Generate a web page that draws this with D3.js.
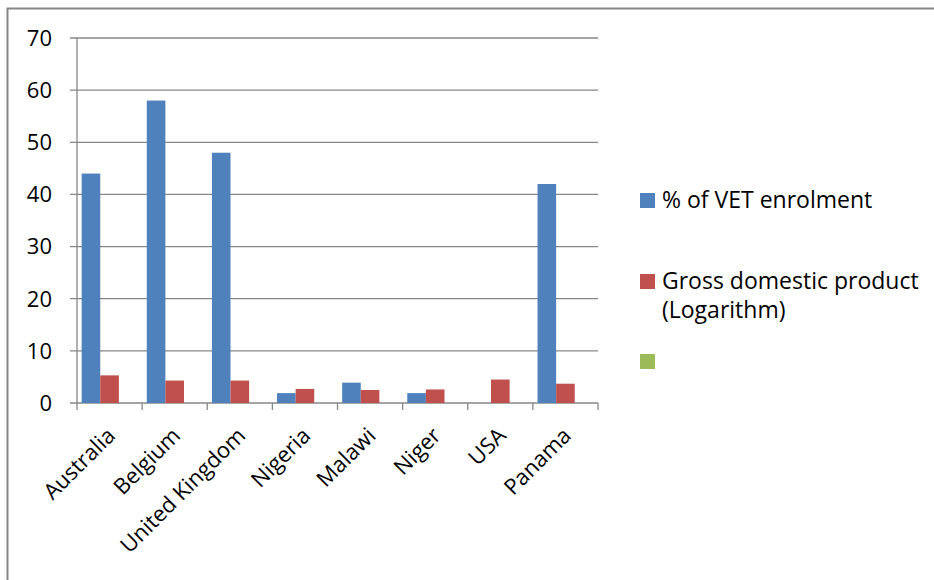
<!DOCTYPE html>
<html>
<head>
<meta charset="utf-8">
<title>VET enrolment and GDP</title>
<script src="https://d3js.org/d3.v7.min.js"></script>
<style>
  body { margin: 0; background: #fff; }
  #plot { width: 934px; height: 580px; }
  text { font-family: "Open Sans", Calibri, sans-serif; fill: #000; }
</style>
</head>
<body>
<div id="plot"></div>
<script>
var countries = ['Australia', 'Belgium', 'United Kingdom', 'Nigeria', 'Malawi', 'Niger', 'USA', 'Panama']
var vetEnrolment = [44, 58, 48, 1.9, 3.9, 1.9, null, 42]
var gdpLog = [5.3, 4.3, 4.3, 2.7, 2.5, 2.6, 4.5, 3.7]
var thirdSeries = [null, null, null, null, null, null, null, null]
var seriesColors = ['#4f81bd', '#c0504d', '#9bbb59']
var yTicks = [0, 10, 20, 30, 40, 50, 60, 70]

var margin = {top: 38, left: 77}
var width = 521, height = 365

var svg = d3.select('#plot').append('svg')
    .attr('width', 934)
    .attr('height', 580)

// outer chart frame
svg.append('path')
    .attr('d', 'M7.5,580 V8.5 H934')
    .attr('fill', 'none')
    .attr('stroke', '#878787')
    .attr('stroke-width', 2)

var g = svg.append('g').attr('transform', 'translate(' + margin.left + ',' + margin.top + ')')

var x = d3.scaleBand().domain(countries).range([0, width]).paddingInner(0).paddingOuter(0)
var y = d3.scaleLinear().domain([0, 70]).range([height, 0])
var inner = d3.scaleBand().domain([0, 1, 2]).range([0, x.bandwidth()]).paddingInner(0).paddingOuter(0.25)

// gridlines
g.selectAll('.grid').data(yTicks).enter().append('line')
    .attr('x1', -7).attr('x2', width)
    .attr('y1', function(d){ return y(d) }).attr('y2', function(d){ return y(d) })
    .attr('stroke', '#878787').attr('stroke-width', 1.3)

// y axis line
g.append('line').attr('x1', 0).attr('x2', 0).attr('y1', 0).attr('y2', height)
    .attr('stroke', '#878787').attr('stroke-width', 1.3)

// y labels
g.selectAll('.ylab').data(yTicks).enter().append('text')
    .attr('x', -25).attr('y', function(d){ return y(d) })
    .attr('dy', '0.36em')
    .attr('text-anchor', 'end')
    .style('font-size', '22px')
    .text(function(d){ return d })

// x ticks
var xTicks = countries.map(function(c){ return x(c) }).concat([width])
g.selectAll('.xtick').data(xTicks).enter().append('line')
    .attr('x1', function(d){ return d }).attr('x2', function(d){ return d })
    .attr('y1', height).attr('y2', height + 7)
    .attr('stroke', '#878787').attr('stroke-width', 1.3)

// bars
var allSeries = [vetEnrolment, gdpLog, thirdSeries]
allSeries.forEach(function(vals, si){
    g.selectAll('.bar' + si).data(countries).enter().append('rect')
        .attr('x', function(c){ return x(c) + inner(si) })
        .attr('width', inner.bandwidth())
        .attr('y', function(c, i){ return vals[i] == null ? height : y(vals[i]) })
        .attr('height', function(c, i){ return vals[i] == null ? 0 : height - y(vals[i]) })
        .attr('fill', seriesColors[si])
})

// x labels
g.selectAll('.xlab').data(countries).enter().append('text')
    .attr('transform', function(c){
        return 'translate(' + (x(c) + x.bandwidth() / 2 + 7) + ',' + (height + 34) + ') rotate(-45)'
    })
    .attr('text-anchor', 'end')
    .style('font-size', '22px')
    .text(function(c){ return c })

// legend
var legend = svg.append('g')
var legendItems = [
    {y: 193, lines: ['% of VET enrolment']},
    {y: 274, lines: ['Gross domestic product', '(Logarithm)']},
    {y: 354, lines: []}
]
legendItems.forEach(function(item, i){
    legend.append('rect')
        .attr('x', 640).attr('y', item.y)
        .attr('width', 15).attr('height', 15)
        .attr('fill', seriesColors[i])
    item.lines.forEach(function(l, j){
        legend.append('text')
            .attr('x', 662).attr('y', item.y + 15 + j * 29)
            .style('font-size', '23px')
            .text(l)
    })
})
</script>
</body>
</html>
